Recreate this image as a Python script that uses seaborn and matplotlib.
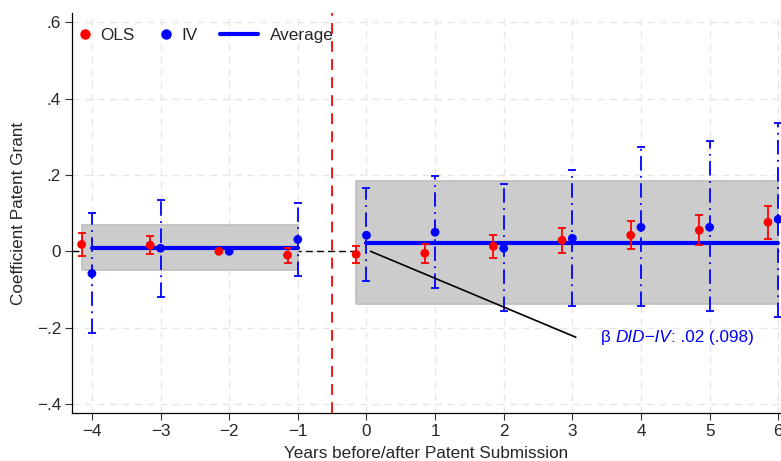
import matplotlib
matplotlib.use("Agg")
import matplotlib.pyplot as plt
import matplotlib.ticker as mticker
import numpy as np
import pandas as pd
import seaborn as sns

# event-time coefficients
years = [-4, -3, -2, -1, 0, 1, 2, 3, 4, 5, 6]

ols_coef = [0.018, 0.016, 0.0, -0.010, -0.008, -0.005, 0.013, 0.029, 0.042, 0.055, 0.076]
ols_lo = [-0.013, -0.008, 0.0, -0.030, -0.030, -0.030, -0.018, -0.005, 0.005, 0.016, 0.031]
ols_hi = [0.047, 0.040, 0.0, 0.008, 0.013, 0.020, 0.042, 0.062, 0.079, 0.094, 0.118]

iv_coef = [-0.058, 0.008, 0.0, 0.031, 0.042, 0.050, 0.008, 0.034, 0.063, 0.063, 0.084]
iv_lo = [-0.215, -0.120, 0.0, -0.065, -0.078, -0.095, -0.157, -0.144, -0.144, -0.157, -0.172]
iv_hi = [0.100, 0.134, 0.0, 0.127, 0.165, 0.196, 0.175, 0.212, 0.272, 0.288, 0.335]

# pre / post averages and their confidence bands
pre_years = [-4, -1]
pre_avg = 0.009
pre_band = (-0.050, 0.070)
post_years = [0, 6]
post_avg = 0.023
post_band = (-0.139, 0.185)

ols_shift = -0.15
FS = 12.3

df = pd.DataFrame({"year": years, "ols": ols_coef, "iv": iv_coef})
df["year_ols"] = df["year"] + ols_shift

sns.set_style("white")
plt.rcParams["font.family"] = ["Liberation Sans", "DejaVu Sans"]

fig = plt.figure(figsize=(7.81, 4.61), dpi=100)
ax = fig.add_axes([0.0922, 0.104, 0.9078, 0.8677])

ax.set_xlim(-4.29, 6.04)
ax.set_ylim(-0.4236, 0.624)

ax.set_xticks(range(-4, 7))
ax.set_yticks([-0.4, -0.2, 0, 0.2, 0.4, 0.6])
ax.grid(True, color="#e6e6e6", linestyle=(0, (5, 4)), linewidth=1.0)
ax.set_axisbelow(True)


def fmt(v, pos):
    if abs(v) < 1e-9:
        return "0"
    s = f"{v:.1f}".replace("0.", ".")
    return s.replace("-", "\u2212")


ax.yaxis.set_major_formatter(mticker.FuncFormatter(fmt))
ax.xaxis.set_major_formatter(mticker.FuncFormatter(lambda v, p: f"{int(v)}".replace("-", "\u2212")))

# zero line and treatment line
ax.axhline(0, color="black", linestyle=(0, (5, 3)), linewidth=1.0, zorder=1)
ax.axvline(-0.5, color="red", linestyle=(0, (6, 4)), linewidth=1.3, zorder=5)

# shaded bands
ax.fill_between([pre_years[0] + ols_shift, pre_years[1]], pre_band[0], pre_band[1],
                color="#cccccc", edgecolor="#bdbdbd", linewidth=1.2, zorder=2)
ax.fill_between([post_years[0] + ols_shift, post_years[1]], post_band[0], post_band[1],
                color="#cccccc", edgecolor="#bdbdbd", linewidth=1.2, zorder=2)

# averages
avg = pd.DataFrame({"x": pre_years + post_years,
                    "y": [pre_avg] * 2 + [post_avg] * 2,
                    "g": ["pre", "pre", "post", "post"]})
sns.lineplot(data=avg, x="x", y="y", units="g", estimator=None, color="#0000ff",
             linewidth=3.0, ax=ax, zorder=4, legend=False)

# confidence intervals
yo = np.array(ols_coef)
eo = [yo - np.array(ols_lo), np.array(ols_hi) - yo]
ax.errorbar(df["year_ols"], yo, yerr=eo, fmt="none", ecolor="red", elinewidth=1.3,
            capsize=3, capthick=1.3, zorder=6)
yi = np.array(iv_coef)
ei = [yi - np.array(iv_lo), np.array(iv_hi) - yi]
eb = ax.errorbar(df["year"], yi, yerr=ei, fmt="none", ecolor="#0000ff", elinewidth=1.3,
                 capsize=3, capthick=1.3, zorder=6)
eb[2][0].set_linestyle((0, (8, 3, 1, 3)))

sns.scatterplot(data=df, x="year_ols", y="ols", color="red", s=40, edgecolor="none",
                ax=ax, zorder=7)
sns.scatterplot(data=df, x="year", y="iv", color="#0000ff", s=40, edgecolor="none",
                ax=ax, zorder=7)

# annotation
ax.plot([0.06, 3.05], [0.0, -0.225], color="black", linewidth=1.2, zorder=8)
t1 = ax.text(3.42, -0.225, "\u03b2 ", color="#0000ff", fontsize=FS, va="center", ha="left")
t2 = ax.annotate("DID\u2212IV", xy=(1, 0), xycoords=t1, va="bottom", ha="left",
                 color="#0000ff", fontsize=FS, style="italic")
ax.annotate(": .02 (.098)", xy=(1, 0), xycoords=t2, va="bottom", ha="left",
            color="#0000ff", fontsize=FS)

ax.set_xlabel("Years before/after Patent Submission", fontsize=FS, labelpad=5)
ax.set_ylabel("Coefficient Patent Grant", fontsize=FS, labelpad=8)
ax.tick_params(axis="both", labelsize=FS, length=5, width=0.8, color="#333333",
               direction="out", bottom=True, left=True, pad=3)

for side in ["top", "right"]:
    ax.spines[side].set_visible(False)
for side in ["left", "bottom"]:
    ax.spines[side].set_color("black")
    ax.spines[side].set_linewidth(0.9)

# legend: points and the average line have different handle lengths
dots = [
    plt.Line2D([], [], marker="o", color="red", linestyle="none", markersize=6.5),
    plt.Line2D([], [], marker="o", color="#0000ff", linestyle="none", markersize=6.5),
]
leg1 = ax.legend(dots, ["OLS", "IV"], loc="center left", ncol=2, frameon=False,
                 fontsize=FS, handlelength=0.8, handletextpad=0.5, columnspacing=1.4,
                 bbox_to_anchor=(0.0087, 0.945), borderaxespad=0, borderpad=0)
ax.add_artist(leg1)
line = [plt.Line2D([], [], color="#0000ff", linewidth=3.0)]
ax.legend(line, ["Average"], loc="center left", frameon=False, fontsize=FS,
          handlelength=2.2, handletextpad=0.7,
          bbox_to_anchor=(0.2087, 0.945), borderaxespad=0, borderpad=0)

fig.savefig("out.png", dpi=100)
